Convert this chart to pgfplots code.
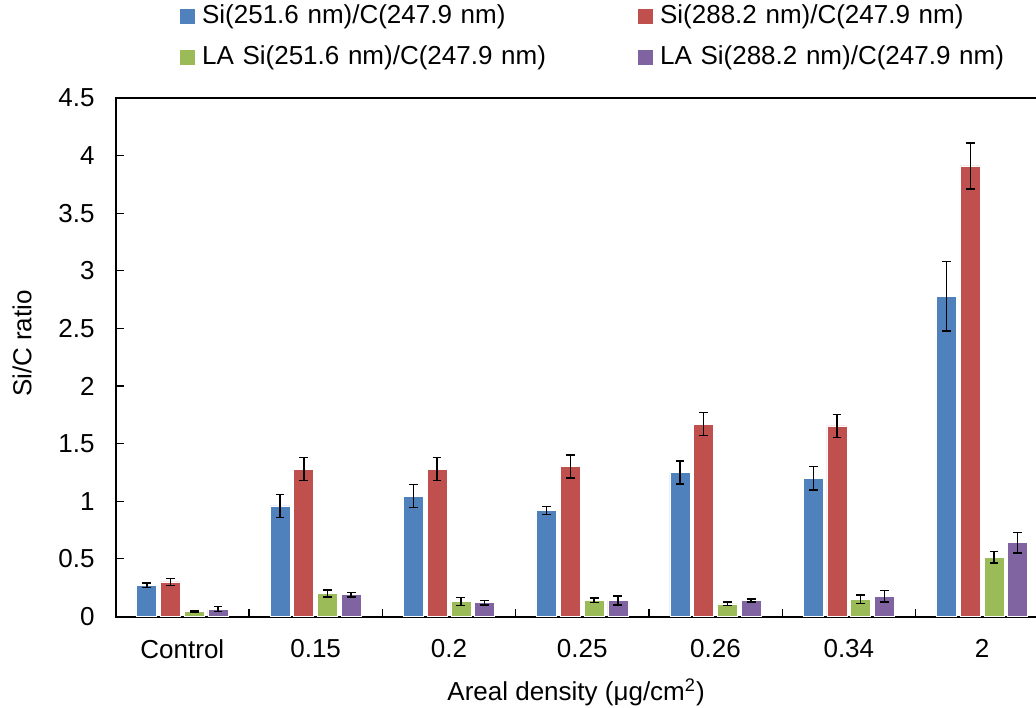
\documentclass[border=0pt]{standalone}
\usepackage{fontspec}
\setmainfont{Liberation Sans}
\usepackage{pgfplots}
\usepackage{pgfplotstable}
\pgfplotsset{compat=1.18}
\definecolor{cblue}{HTML}{4F81BD}
\definecolor{cred}{HTML}{C0504D}
\definecolor{cgreen}{HTML}{9BBB59}
\definecolor{cpurple}{HTML}{8064A2}

\pgfplotstableread{
x y e
0 0.27 0.02
1 0.96 0.10
2 1.045 0.10
3 0.92 0.035
4 1.25 0.10
5 1.20 0.10
6 2.78 0.30
}\tblblue
\pgfplotstableread{
x y e
0 0.30 0.03
1 1.28 0.10
2 1.28 0.10
3 1.30 0.10
4 1.67 0.10
5 1.655 0.10
6 3.91 0.20
}\tblred
\pgfplotstableread{
x y e
0 0.045 0.005
1 0.20 0.03
2 0.13 0.035
3 0.14 0.02
4 0.11 0.015
5 0.15 0.035
6 0.515 0.05
}\tblgreen
\pgfplotstableread{
x y e
0 0.065 0.02
1 0.19 0.02
2 0.12 0.02
3 0.14 0.04
4 0.14 0.012
5 0.175 0.05
6 0.64 0.09
}\tblpurple

\newcommand{\chartfont}{\fontsize{13pt}{15pt}\selectfont}

\begin{document}
\begin{tikzpicture}
\useasboundingbox (-57.85pt,-45.5pt) rectangle (460.15pt,308.25pt);
\begin{axis}[
  scale only axis,
  width=466.55pt, height=259.25pt,
  xmin=-0.5, xmax=6.5, ymin=0, ymax=4.5,
  ybar=1.86pt, bar width=10pt,
  axis line style={black, line width=1pt},
  tick align=inside,
  xtick pos=bottom, ytick pos=left,
  major tick length=4pt,
  tick style={black, line width=0.6pt},
  ytick={0,0.5,...,4.5},
  yticklabels={0,0.5,1,1.5,2,2.5,3,3.5,4,4.5},
  yticklabel style={font=\chartfont, xshift=-7pt},
  xtick={0.5,1.5,...,5.5},
  xticklabels={},
  extra x ticks={0,1,2,3,4,5,6},
  extra x tick labels={Control,0.15,0.2,0.25,0.26,0.34,2},
  extra x tick style={major tick length=0pt, xticklabel style={font=\chartfont, yshift=-8pt}},
  every axis y label/.style={at={(axis description cs:-0.1003,0.5265)}, rotate=90, anchor=center, font=\chartfont},
  every axis x label/.style={at={(axis description cs:0.4934,0)}, anchor=base, yshift=-41.8pt, font=\chartfont},
  ylabel={Si/C ratio},
  xlabel={Areal density (μg/cm\textsuperscript{2})},
  legend columns=2,
  legend image code/.code={\draw[#1, draw=none] (0pt,-3.75pt) rectangle (7.5pt,3.75pt);},
  legend style={at={(axis description cs:0.069,1.181)}, anchor=north west,
    draw=none, fill=none, inner sep=0pt, outer sep=0pt, font=\chartfont,
    nodes={inner sep=0pt, text width=200pt, text height=9.5pt, text depth=2.7pt, align=left},
    row sep=8.3pt,
    /tikz/every odd column/.append style={column sep=3.5pt},
    /tikz/every even column/.append style={column sep=18pt}},
]
\addplot[fill=cblue, draw=white, line width=0.3pt,
  error bars/.cd, y dir=both, y explicit,
  error bar style={black, line width=0.75pt},
  error mark options={black, mark size=2.2pt, line width=0.75pt, rotate=90}]
  table[x=x, y=y, y error=e] {\tblblue};
\addlegendentry{Si(251.6 nm)/C(247.9 nm)}
\addplot[fill=cred, draw=white, line width=0.3pt,
  error bars/.cd, y dir=both, y explicit,
  error bar style={black, line width=0.75pt},
  error mark options={black, mark size=2.2pt, line width=0.75pt, rotate=90}]
  table[x=x, y=y, y error=e] {\tblred};
\addlegendentry{Si(288.2 nm)/C(247.9 nm)}
\addplot[fill=cgreen, draw=white, line width=0.3pt,
  error bars/.cd, y dir=both, y explicit,
  error bar style={black, line width=0.75pt},
  error mark options={black, mark size=2.2pt, line width=0.75pt, rotate=90}]
  table[x=x, y=y, y error=e] {\tblgreen};
\addlegendentry{LA Si(251.6 nm)/C(247.9 nm)}
\addplot[fill=cpurple, draw=white, line width=0.3pt,
  error bars/.cd, y dir=both, y explicit,
  error bar style={black, line width=0.75pt},
  error mark options={black, mark size=2.2pt, line width=0.75pt, rotate=90}]
  table[x=x, y=y, y error=e] {\tblpurple};
\addlegendentry{LA Si(288.2 nm)/C(247.9 nm)}
\end{axis}
\end{tikzpicture}
\end{document}
